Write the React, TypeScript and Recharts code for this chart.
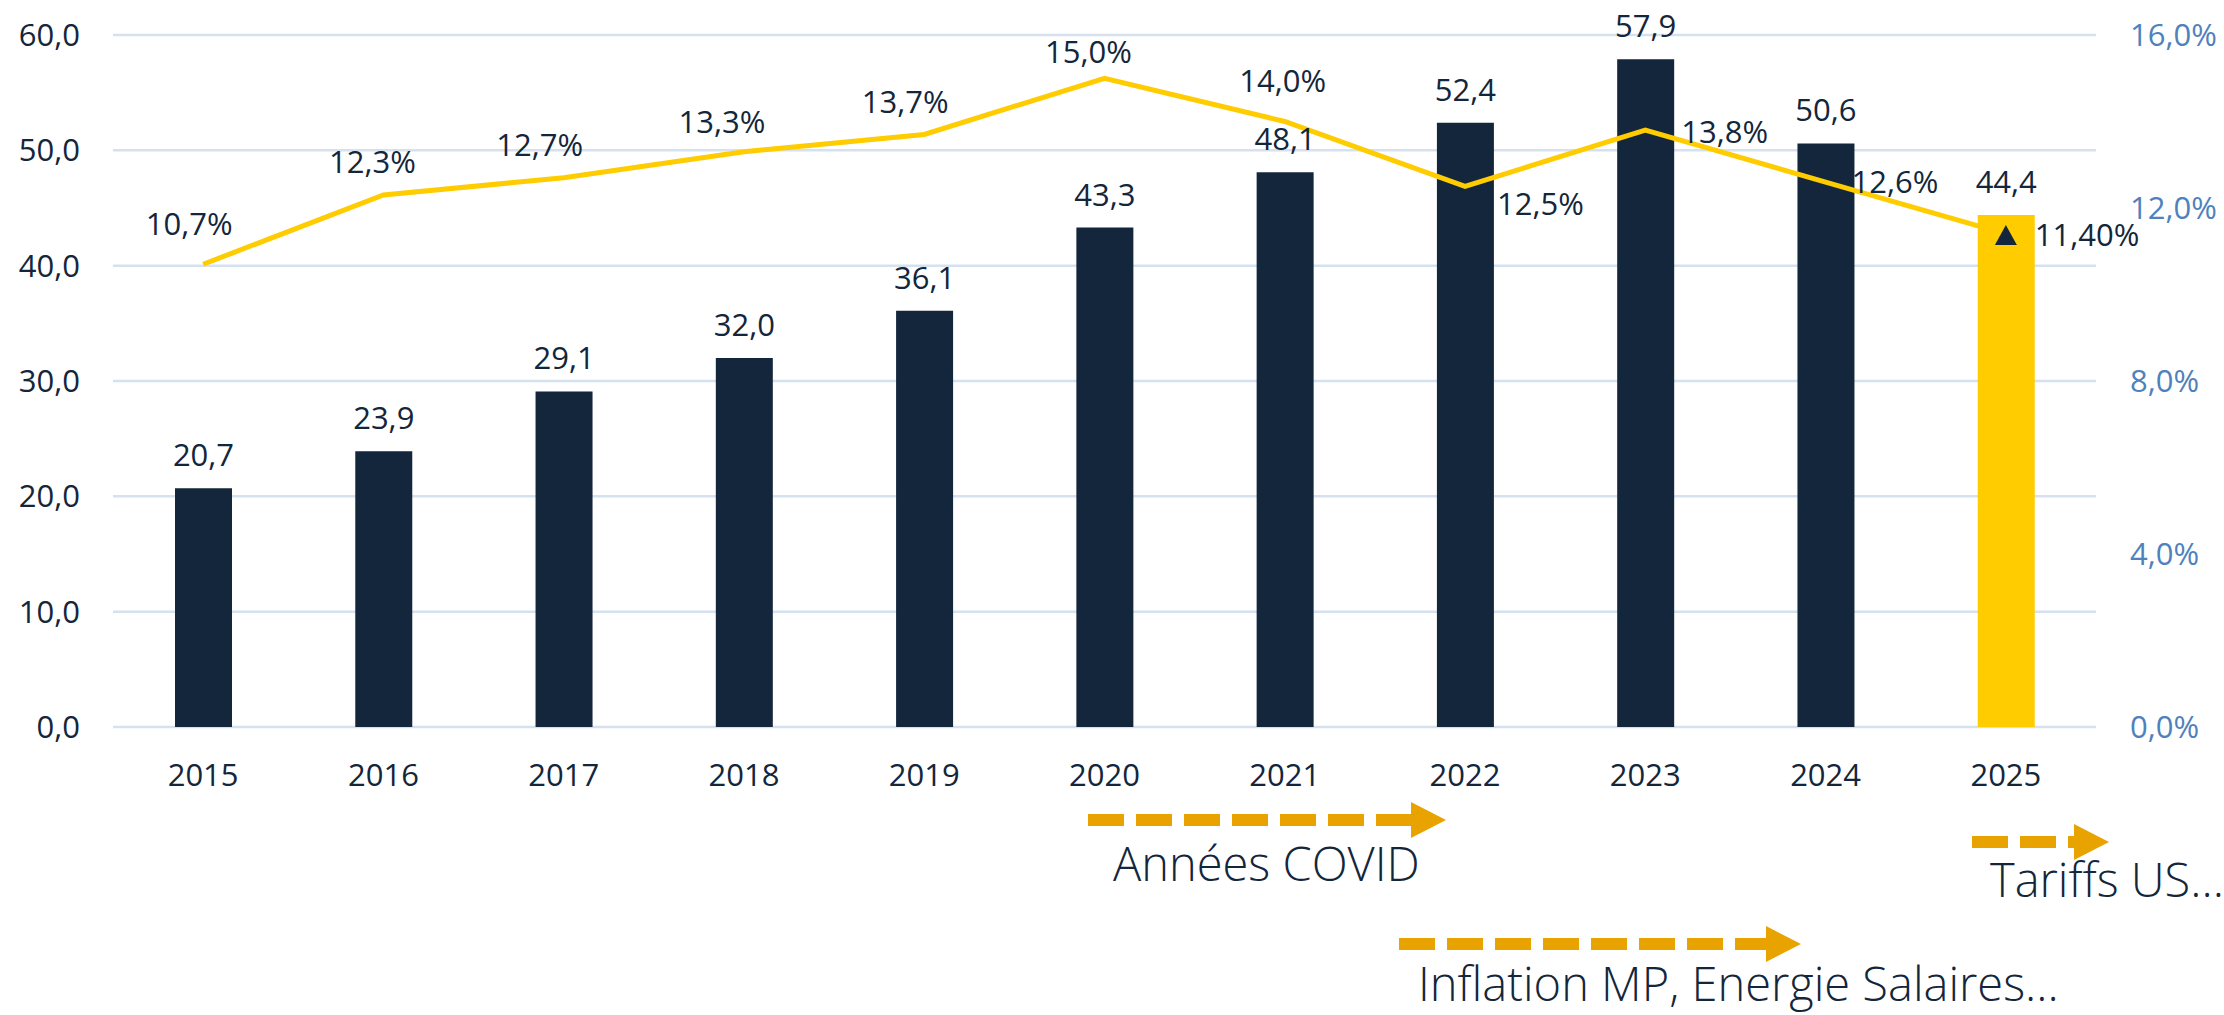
import * as React from "react";
import {
  ComposedChart,
  Bar,
  Line,
  Cell,
  XAxis,
  YAxis,
  CartesianGrid,
  LabelList,
} from "recharts";

// ─── Data ─────────────────────────────────────────────────
const YEARS = ["2015", "2016", "2017", "2018", "2019", "2020", "2021", "2022", "2023", "2024", "2025"];
const REVENUE = [20.7, 23.9, 29.1, 32.0, 36.1, 43.3, 48.1, 52.4, 57.9, 50.6, 44.4];
const MARGIN_PCT = [10.7, 12.3, 12.7, 13.3, 13.7, 15.0, 14.0, 12.5, 13.8, 12.6, 11.4];
const LEFT_TICKS = [0, 10, 20, 30, 40, 50, 60];
const RIGHT_TICKS = [0, 4, 8, 12, 16];

// ─── Styles ───────────────────────────────────────────────
const NAVY = "#13263B";
const YELLOW = "#FFCC00";
const GOLD = "#E8A300";
const GRID = "#D5E1EF";
const BLUE_AXIS = "#4F81BD";
const FONT = "'Open Sans', 'Noto Sans', sans-serif";
const FS = 31;

// label placement relative to each line point [dx, dy, anchor]
const LINE_LABEL_OFFSETS: [number, number, "middle" | "start"][] = [
  [-14, -40, "middle"],
  [-11, -33, "middle"],
  [-24, -33, "middle"],
  [-22, -30, "middle"],
  [-19, -33, "middle"],
  [-16, -26, "middle"],
  [-2, -41, "middle"],
  [32, 17, "start"],
  [36, 2, "start"],
  [26, 0, "start"],
  [29, 1, "start"],
];

const data = YEARS.map((year, i) => ({
  year,
  revenue: REVENUE[i],
  pct: MARGIN_PCT[i],
}));

const fmt1 = (v: number) => v.toFixed(1).replace(".", ",");

function LineLabel(props: any) {
  const { x, y, index, value } = props;
  const off = LINE_LABEL_OFFSETS[index] ?? [0, -30, "middle"];
  const txt = index === YEARS.length - 1
    ? value.toFixed(2).replace(".", ",") + "%"
    : fmt1(value) + "%";
  return (
    <text
      x={x + off[0]}
      y={y + off[1]}
      dy="0.36em"
      textAnchor={off[2]}
      fill={NAVY}
      fontSize={FS}
      fontFamily={FONT}
    >
      {txt}
    </text>
  );
}

function LineDot(props: any) {
  const { cx, cy, index } = props;
  if (index !== YEARS.length - 1) return <g key={index} />;
  return (
    <polygon
      key={index}
      points={`${cx},${cy - 9} ${cx + 11},${cy + 11} ${cx - 11},${cy + 11}`}
      fill={NAVY}
    />
  );
}

// ─── Annotation arrow ─────────────────────────────────────
function Arrow({ x1, x2, y }: { x1: number; x2: number; y: number }) {
  const head = 35;
  return (
    <g>
      <line
        x1={x1}
        x2={x2 - head + 2}
        y1={y}
        y2={y}
        stroke={GOLD}
        strokeWidth={12}
        strokeDasharray="36 12"
      />
      <polygon points={`${x2 - head},${y - 18} ${x2},${y} ${x2 - head},${y + 18}`} fill={GOLD} />
    </g>
  );
}

const noteStyle = {
  fontFamily: FONT,
  fontWeight: 300,
  fontSize: 47,
  fill: NAVY,
};

export default function App() {
  const tick = { fill: NAVY, fontSize: FS, fontFamily: FONT };
  return (
    <div style={{ position: "absolute", left: 0, top: 0, width: 2224, height: 1015, background: "#fff", overflow: "hidden" }}>
      <ComposedChart
        width={2224}
        height={807}
        data={data}
        margin={{ top: 35, right: 0, bottom: 0, left: 0 }}
      >
        <CartesianGrid yAxisId="left" vertical={false} stroke={GRID} strokeWidth={2.5} />
        <XAxis
          dataKey="year"
          axisLine={false}
          tickLine={false}
          tickSize={0}
          tickMargin={37}
          height={80}
          tick={tick}
          interval={0}
        />
        <YAxis
          yAxisId="left"
          orientation="left"
          domain={[0, 60]}
          ticks={LEFT_TICKS}
          tickFormatter={fmt1}
          axisLine={false}
          tickLine={false}
          tickSize={0}
          tickMargin={33}
          width={113}
          tick={tick}
        />
        <YAxis
          yAxisId="right"
          orientation="right"
          domain={[0, 16]}
          ticks={RIGHT_TICKS}
          tickFormatter={(v: number) => fmt1(v) + "%"}
          axisLine={false}
          tickLine={false}
          tickSize={0}
          tickMargin={34}
          width={128}
          tick={{ ...tick, fill: BLUE_AXIS }}
        />
        <Bar yAxisId="left" dataKey="revenue" barSize={57} isAnimationActive={false}>
          {data.map((_, i) => (
            <Cell key={i} fill={i === data.length - 1 ? YELLOW : NAVY} />
          ))}
          <LabelList
            dataKey="revenue"
            position="top"
            offset={22}
            formatter={(v: any) => fmt1(Number(v))}
            fill={NAVY}
            fontSize={FS}
            fontFamily={FONT}
          />
        </Bar>
        <Line
          yAxisId="right"
          type="linear"
          dataKey="pct"
          stroke={YELLOW}
          strokeWidth={5}
          dot={LineDot}
          activeDot={false}
          isAnimationActive={false}
        >
          <LabelList dataKey="pct" content={LineLabel} />
        </Line>
      </ComposedChart>

      <svg
        width={2224}
        height={1015}
        style={{ position: "absolute", left: 0, top: 0, pointerEvents: "none" }}
      >
        <Arrow x1={1088} x2={1446} y={820} />
        <text x={1113} y={881} style={noteStyle}>Années COVID</text>

        <Arrow x1={1972} x2={2109} y={842} />
        <text x={1990} y={897} style={noteStyle}>Tariffs US...</text>

        <Arrow x1={1399} x2={1801} y={944} />
        <text x={1418} y={1001} style={noteStyle}>Inflation MP, Energie Salaires...</text>
      </svg>
    </div>
  );
}
